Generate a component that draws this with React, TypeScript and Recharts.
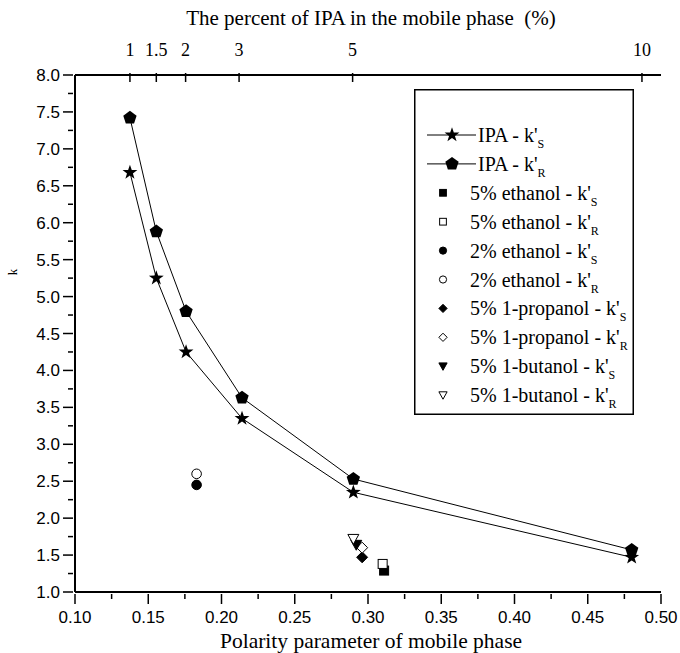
import { ScatterChart, Scatter, XAxis, YAxis, Label } from 'recharts'

// IPA series (top axis: percent of IPA)
const ipaPercentLabels = ['1', '1.5', '2', '3', '5', '10']
const ipaTopTicks = [0.1375, 0.1555, 0.1755, 0.212, 0.2895, 0.487]
const ipaPolarity = [0.1375, 0.1555, 0.1758, 0.214, 0.29, 0.48]
const ipaKS = [6.68, 5.25, 4.25, 3.35, 2.35, 1.47]
const ipaKR = [7.42, 5.88, 4.8, 3.63, 2.53, 1.57]

// single-point series
const singleNames = ['5% ethanol', '5% ethanol', '2% ethanol', '2% ethanol', '5% 1-propanol', '5% 1-propanol', '5% 1-butanol', '5% 1-butanol']
const singleSub = ['S', 'R', 'S', 'R', 'S', 'R', 'S', 'R']
const singlePolarity = [0.311, 0.31, 0.183, 0.183, 0.296, 0.296, 0.292, 0.29]
const singleK = [1.29, 1.38, 2.45, 2.6, 1.47, 1.6, 1.64, 1.72]
const singleShape = ['square', 'square', 'circle', 'circle', 'diamond', 'diamond', 'triDown', 'triDown']

const bottomMajor = [0.1, 0.15, 0.2, 0.25, 0.3, 0.35, 0.4, 0.45, 0.5]
const bottomMinor = [0.125, 0.175, 0.225, 0.275, 0.325, 0.375, 0.425, 0.475]
const yMajor = [1, 1.5, 2, 2.5, 3, 3.5, 4, 4.5, 5, 5.5, 6, 6.5, 7, 7.5, 8]
const yMinor = [1.25, 1.75, 2.25, 2.75, 3.25, 3.75, 4.25, 4.75, 5.25, 5.75, 6.25, 6.75, 7.25, 7.75]

const SANS = 'Liberation Sans, Arial, sans-serif'
const SERIF = 'Liberation Serif, Times New Roman, serif'

function starPoints(cx: number, cy: number, r: number, ri: number) {
  const pts: string[] = []
  for (let i = 0; i < 10; i++) {
    const a = -Math.PI / 2 + (i * Math.PI) / 5
    const rr = i % 2 === 0 ? r : ri
    pts.push(`${cx + rr * Math.cos(a)},${cy + rr * Math.sin(a)}`)
  }
  return pts.join(' ')
}

function pentPoints(cx: number, cy: number, r: number) {
  const pts: string[] = []
  for (let i = 0; i < 5; i++) {
    const a = -Math.PI / 2 + (i * 2 * Math.PI) / 5
    pts.push(`${cx + r * Math.cos(a)},${cy + r * Math.sin(a)}`)
  }
  return pts.join(' ')
}

function marker(kind: string, filled: boolean, cx: number, cy: number, s = 1) {
  const fill = filled ? '#000' : '#fff'
  const sw = 1
  if (kind === 'star') return <polygon points={starPoints(cx, cy, 7.8 * s, 3.1 * s)} fill="#000" />
  if (kind === 'pentagon') return <polygon points={pentPoints(cx, cy, 7 * s)} fill="#000" />
  if (kind === 'square') return <rect x={cx - 4.5 * s} y={cy - 4.5 * s} width={9 * s} height={9 * s} fill={fill} stroke="#000" strokeWidth={sw} />
  if (kind === 'circle') return <circle cx={cx} cy={cy} r={4.8 * s} fill={fill} stroke="#000" strokeWidth={sw} />
  if (kind === 'diamond') {
    const r = 5.5 * s
    return <polygon points={`${cx},${cy - r} ${cx + r},${cy} ${cx},${cy + r} ${cx - r},${cy}`} fill={fill} stroke="#000" strokeWidth={sw} />
  }
  const r = 5.5 * s
  return <polygon points={`${cx - r},${cy - r * 0.8} ${cx + r},${cy - r * 0.8} ${cx},${cy + r}`} fill={fill} stroke="#000" strokeWidth={sw} />
}

const BottomTick = (props: any) => {
  const { x, y, payload } = props
  const major = bottomMajor.includes(payload.value)
  return (
    <g>
      <line x1={x} x2={x} y1={y} y2={y + (major ? 10 : 5)} stroke="#000" strokeWidth={1.5} />
      {major && (
        <text x={x} y={y + 29} textAnchor="middle" fontFamily={SANS} fontSize={17} fill="#000">
          {payload.value.toFixed(2)}
        </text>
      )}
    </g>
  )
}

const TopTick = (props: any) => {
  const { x, y, index } = props
  return (
    <g>
      <line x1={x} x2={x} y1={y} y2={y + 9} stroke="#000" strokeWidth={1.5} />
      <text x={x} y={y - 17} textAnchor="middle" fontFamily={SERIF} fontSize={18} fill="#000">
        {ipaPercentLabels[index]}
      </text>
    </g>
  )
}

const LeftTick = (props: any) => {
  const { x, y, payload } = props
  const major = yMajor.includes(payload.value)
  return (
    <g>
      <line x1={x} x2={x - (major ? 10 : 5)} y1={y} y2={y} stroke="#000" strokeWidth={1.5} />
      {major && (
        <text x={x - 13} y={y + 6} textAnchor="end" fontFamily={SANS} fontSize={17} fill="#000">
          {payload.value.toFixed(1)}
        </text>
      )}
    </g>
  )
}

const LegendBox = () => {
  const rowY = (i: number) => 46 + i * 28.9
  const kLabel = (prefix: string, sub: string) => (
    <>
      {prefix} - k'
      <tspan dy={6} fontSize={12}>{sub}</tspan>
    </>
  )
  return (
    <svg width={220} height={326} style={{ display: 'block' }}>
      <rect x={0.75} y={0.75} width={218.5} height={324.5} fill="#fff" stroke="#000" strokeWidth={1.5} />
      {['star', 'pentagon'].map((k, i) => (
        <g key={k}>
          <line x1={13} x2={62} y1={rowY(i)} y2={rowY(i)} stroke="#000" strokeWidth={1} />
          {marker(k, true, 38, rowY(i))}
          <text x={64} y={rowY(i) + 7} fontFamily={SERIF} fontSize={20}>
            {kLabel('IPA', i === 0 ? 'S' : 'R')}
          </text>
        </g>
      ))}
      {singleNames.map((n, i) => (
        <g key={i}>
          {marker(singleShape[i], singleSub[i] === 'S', 29, rowY(i + 2), 0.75)}
          <text x={56} y={rowY(i + 2) + 7} fontFamily={SERIF} fontSize={20}>
            {kLabel(n, singleSub[i])}
          </text>
        </g>
      ))}
    </svg>
  )
}

export default function App() {
  const ipaS = ipaPolarity.map((x, i) => ({ x, y: ipaKS[i] }))
  const ipaR = ipaPolarity.map((x, i) => ({ x, y: ipaKR[i] }))
  return (
    <div style={{ position: 'absolute', left: 0, top: 0, width: 680, height: 653, background: '#fff' }}>
      <ScatterChart width={680} height={653} margin={{ top: 0, right: 19, bottom: 0, left: 0 }}>
        <XAxis
          xAxisId="b"
          type="number"
          dataKey="x"
          domain={[0.1, 0.5]}
          ticks={[...bottomMajor, ...bottomMinor]}
          interval={0}
          tickSize={0}
          tickLine={false}
          tick={<BottomTick />}
          height={61}
          axisLine={{ stroke: '#000', strokeWidth: 2 }}
          allowDataOverflow
        >
          <Label
            content={() => (
              <text x={371} y={648} textAnchor="middle" fontFamily={SERIF} fontSize={21.5} fill="#000">
                Polarity parameter of mobile phase
              </text>
            )}
          />
        </XAxis>
        <XAxis
          xAxisId="t"
          orientation="top"
          type="number"
          dataKey="x"
          domain={[0.1, 0.5]}
          ticks={ipaTopTicks}
          interval={0}
          tickSize={0}
          tickLine={false}
          tick={<TopTick />}
          height={75}
          axisLine={{ stroke: '#000', strokeWidth: 2 }}
          allowDataOverflow
        >
          <Label
            content={() => (
              <text x={371} y={25} textAnchor="middle" fontFamily={SERIF} fontSize={21} fill="#000">
                {'The percent of IPA in the mobile phase\u00a0\u00a0(%)'}
              </text>
            )}
          />
        </XAxis>
        <YAxis
          type="number"
          dataKey="y"
          domain={[1, 8]}
          ticks={[...yMajor, ...yMinor]}
          interval={0}
          tickSize={0}
          tickLine={false}
          tick={<LeftTick />}
          width={75}
          axisLine={{ stroke: '#000', strokeWidth: 2 }}
          allowDataOverflow
        >
          <Label
            content={() => (
              <text x={17} y={272} transform="rotate(-90 17 272)" textAnchor="middle" fontFamily={SERIF} fontSize={13} fill="#000">
                k
              </text>
            )}
          />
        </YAxis>
        <Scatter
          xAxisId="b"
          name="IPA - k'S"
          data={ipaS}
          line={{ stroke: '#000', strokeWidth: 1 }}
          lineType="joint"
          shape={(p: any) => marker('star', true, p.cx, p.cy)}
          isAnimationActive={false}
        />
        <Scatter
          xAxisId="b"
          name="IPA - k'R"
          data={ipaR}
          line={{ stroke: '#000', strokeWidth: 1 }}
          lineType="joint"
          shape={(p: any) => marker('pentagon', true, p.cx, p.cy)}
          isAnimationActive={false}
        />
        {singleNames.map((n, i) => (
          <Scatter
            key={i}
            xAxisId="b"
            name={`${n} - k'${singleSub[i]}`}
            data={[{ x: singlePolarity[i], y: singleK[i] }]}
            shape={(p: any) => marker(singleShape[i], singleSub[i] === 'S', p.cx, p.cy)}
            isAnimationActive={false}
          />
        ))}
      </ScatterChart>
      <div style={{ position: 'absolute', left: 414, top: 89, width: 220, height: 326 }}>
        <LegendBox />
      </div>
    </div>
  )
}
